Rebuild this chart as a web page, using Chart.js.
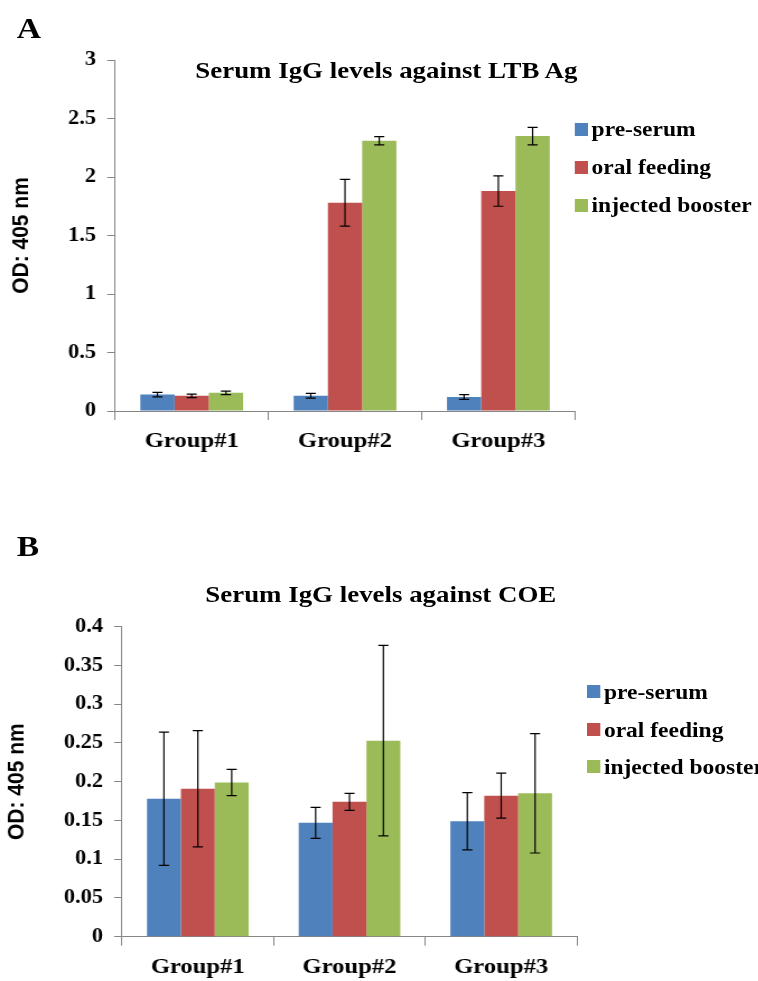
<!DOCTYPE html>
<html>
<head>
<meta charset="utf-8">
<script src="https://cdn.jsdelivr.net/npm/chart.js"></script>
<style>
  html, body { margin: 0; padding: 0; background: #fff; overflow: hidden; }
  #page {
    position: relative; width: 677px; height: 981px;
    transform: scaleX(1.12); transform-origin: 0 0;
    font-family: "Liberation Serif", "Times New Roman", serif; font-weight: bold; color: #000;
  }
  canvas { position: absolute; left: 0; }
  .panel { position: absolute; left: 15px; font-size: 30px; line-height: 30px; }
  .title { position: absolute; font-size: 24px; line-height: 24px; white-space: nowrap; transform: translateX(-50%); }
  .legend { position: absolute; font-size: 21px; }
  .legend .row { position: absolute; left: 0; height: 26px; line-height: 26px; white-space: nowrap; display: flex; align-items: center; }
  .legend .sw { display: inline-block; width: 11.6px; height: 13px; margin-right: 3.6px; }
</style>
</head>
<body>
<div id="page">
  <div class="panel" style="top:13px">A</div>
  <div class="title" style="top:58px;left:345px">Serum IgG levels against LTB Ag</div>
  <canvas id="chartA" width="677" height="480" style="top:0;width:677px;height:480px"></canvas>
  <div class="legend" id="legendA" style="left:513px;top:0"></div>

  <div class="panel" style="top:531px">B</div>
  <div class="title" style="top:582px;left:340px">Serum IgG levels against COE</div>
  <canvas id="chartB" width="677" height="501" style="top:480px;width:677px;height:501px"></canvas>
  <div class="legend" id="legendB" style="left:524px;top:0"></div>
</div>
<script>
const groups = ['Group#1', 'Group#2', 'Group#3'];
const seriesNames = ['pre-serum', 'oral feeding', 'injected booster'];
const seriesColors = ['#4F81BD', '#C0504D', '#9BBB59'];

// panel A: LTB Ag
const ltbPre = [0.14, 0.13, 0.12];
const ltbPreErr = [0.02, 0.02, 0.02];
const ltbOral = [0.13, 1.78, 1.88];
const ltbOralErr = [0.015, 0.2, 0.13];
const ltbBoost = [0.155, 2.31, 2.35];
const ltbBoostErr = [0.015, 0.035, 0.075];
const ltbMax = 3, ltbStep = 0.5;

// panel B: COE
const coePre = [0.178, 0.147, 0.149];
const coePreErr = [0.086, 0.02, 0.037];
const coeOral = [0.191, 0.174, 0.182];
const coeOralErr = [0.075, 0.011, 0.029];
const coeBoost = [0.199, 0.253, 0.185];
const coeBoostErr = [0.017, 0.123, 0.077];
const coeMax = 0.4, coeStep = 0.05;

const serif = 'Liberation Serif';
const grey = '#868686';

const errorBars = {
  id: 'errorBars',
  afterDatasetsDraw(chart) {
    const ctx = chart.ctx, y = chart.scales.y;
    ctx.save();
    ctx.strokeStyle = '#000';
    ctx.lineWidth = 1.2;
    chart.data.datasets.forEach((ds, i) => {
      chart.getDatasetMeta(i).data.forEach((bar, j) => {
        const v = ds.data[j], e = ds.errors[j];
        const top = y.getPixelForValue(v + e), bot = y.getPixelForValue(v - e);
        ctx.beginPath();
        ctx.moveTo(bar.x, top); ctx.lineTo(bar.x, bot);
        ctx.moveTo(bar.x - 4.5, top); ctx.lineTo(bar.x + 4.5, top);
        ctx.moveTo(bar.x - 4.5, bot); ctx.lineTo(bar.x + 4.5, bot);
        ctx.stroke();
      });
    });
    ctx.restore();
  }
};

function makeChart(id, values, errors, yMax, yStep, lay) {
  return new Chart(document.getElementById(id), {
    type: 'bar',
    data: {
      labels: groups,
      datasets: values.map((d, i) => ({
        label: seriesNames[i], data: d, errors: errors[i],
        backgroundColor: seriesColors[i], borderWidth: 0,
        categoryPercentage: 0.67, barPercentage: 1
      }))
    },
    options: {
      responsive: false, animation: false,
      layout: { padding: lay.padding },
      plugins: { legend: { display: false }, tooltip: { enabled: false } },
      scales: {
        x: {
          grid: { offset: true, drawOnChartArea: false, tickLength: 9, color: grey },
          border: { color: grey },
          ticks: { font: { family: serif, weight: 'bold', size: 22 }, color: '#000', padding: 8 },
          afterFit: s => { s.height = lay.xHeight; }
        },
        y: {
          min: 0, max: yMax,
          grid: { drawOnChartArea: false, tickLength: 7, color: grey },
          border: { color: grey },
          ticks: {
            stepSize: yStep, padding: 10, color: '#000',
            font: { family: serif, weight: 'bold', size: 20 },
            callback: v => String(Number(v.toFixed(2)))
          },
          title: {
            display: true, text: 'OD: 405 nm', color: '#000',
            font: { family: 'Liberation Sans', weight: 'bold', size: 21 },
            padding: { top: lay.titlePad, bottom: 0 }
          },
          afterFit: s => { s.width = lay.yWidth; }
        }
      }
    },
    plugins: [errorBars]
  });
}

function makeLegend(id, centers) {
  const box = document.getElementById(id);
  seriesNames.forEach((name, i) => {
    const row = document.createElement('div');
    row.className = 'row';
    row.style.top = (centers[i] - 13) + 'px';
    row.innerHTML = '<span class="sw" style="background:' + seriesColors[i] + '"></span>' + name;
    box.appendChild(row);
  });
}

makeChart('chartA', [ltbPre, ltbOral, ltbBoost], [ltbPreErr, ltbOralErr, ltbBoostErr], ltbMax, ltbStep,
  { padding: { left: 0, top: 60, right: 163.6, bottom: 19 }, xHeight: 50, yWidth: 102.7, titlePad: 7 });
makeChart('chartB', [coePre, coeOral, coeBoost], [coePreErr, coeOralErr, coeBoostErr], coeMax, coeStep,
  { padding: { left: 0, top: 146.7, right: 161.8, bottom: 0 }, xHeight: 44.3, yWidth: 108.9, titlePad: 3 });

makeLegend('legendA', [129.3, 167, 205]);
makeLegend('legendB', [691.7, 729.7, 766.7]);
</script>
</body>
</html>
